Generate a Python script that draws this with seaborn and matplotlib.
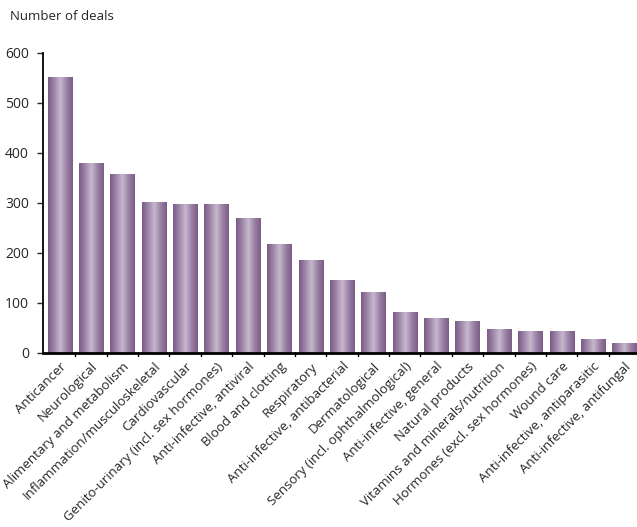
import matplotlib
matplotlib.use("Agg")
import matplotlib.pyplot as plt
import numpy as np
import pandas as pd
import seaborn as sns
from matplotlib.colors import LinearSegmentedColormap

categories = [
    "Anticancer", "Neurological", "Alimentary and metabolism",
    "Inflammation/musculoskeletal", "Cardiovascular",
    "Genito-urinary (incl. sex hormones)", "Anti-infective, antiviral",
    "Blood and clotting", "Respiratory", "Anti-infective, antibacterial",
    "Dermatological", "Sensory (incl. ophthalmological)",
    "Anti-infective, general", "Natural products",
    "Vitamins and minerals/nutrition", "Hormones (excl. sex hormones)",
    "Wound care", "Anti-infective, antiparasitic", "Anti-infective, antifungal",
]
deals = [552, 380, 358, 302, 298, 298, 270, 218, 186, 146, 122, 82, 70, 64,
         48, 44, 44, 28, 20]
y_ticks = [0, 100, 200, 300, 400, 500, 600]

df = pd.DataFrame({"category": categories, "deals": deals})

sns.set_style("white")
plt.rcParams["font.family"] = ["Open Sans", "DejaVu Sans"]

fig = plt.figure(figsize=(6.37, 5.27), dpi=100)
ax = fig.add_axes([43 / 637, 174 / 527, 594 / 637, 300 / 527])

sns.barplot(data=df, x="category", y="deals", ax=ax, width=0.77,
            color="#8a6c94", saturation=1)

# horizontal metallic gradient on each bar
cmap = LinearSegmentedColormap.from_list(
    "bar", ["#7c5b87", "#9e87a8", "#c7b9cf", "#9a82a4", "#7c5b87"])
grad = np.linspace(0, 1, 64)[None, :]
for p in ax.patches:
    x0, y0 = p.get_x(), p.get_y()
    w, h = p.get_width(), p.get_height()
    p.set_visible(False)
    ax.imshow(grad, cmap=cmap, aspect="auto", extent=(x0, x0 + w, y0, y0 + h),
              zorder=2, interpolation="bicubic")

ax.set_xlim(-0.53, 18.4)
ax.set_ylim(0, 600)
ax.set_yticks(y_ticks)
ax.set_yticklabels([str(v) for v in y_ticks], fontsize=10)
ax.set_xticks(np.arange(len(categories)))
ax.set_xticklabels(categories, rotation=45, ha="right", rotation_mode="anchor",
                   fontsize=9.5)
ax.tick_params(axis="x", length=0, pad=5)
ax.tick_params(axis="y", length=4, width=1, direction="out", pad=6, left=True)

# small separator ticks between bars
for xb in np.arange(0.5, len(categories) - 1, 1):
    ax.plot([xb, xb], [-5, 3], color="black", lw=1, clip_on=False, zorder=3)

ax.set_xlabel("")
ax.set_ylabel("")
sns.despine(ax=ax)
ax.spines["left"].set_linewidth(1.3)
ax.spines["bottom"].set_linewidth(2)
ax.spines["left"].set_color("black")
ax.spines["bottom"].set_color("black")

fig.text(10 / 637, 1 - 16 / 527, "Number of deals", fontsize=9.5,
         va="center", ha="left")

fig.savefig("out.png", dpi=100)
